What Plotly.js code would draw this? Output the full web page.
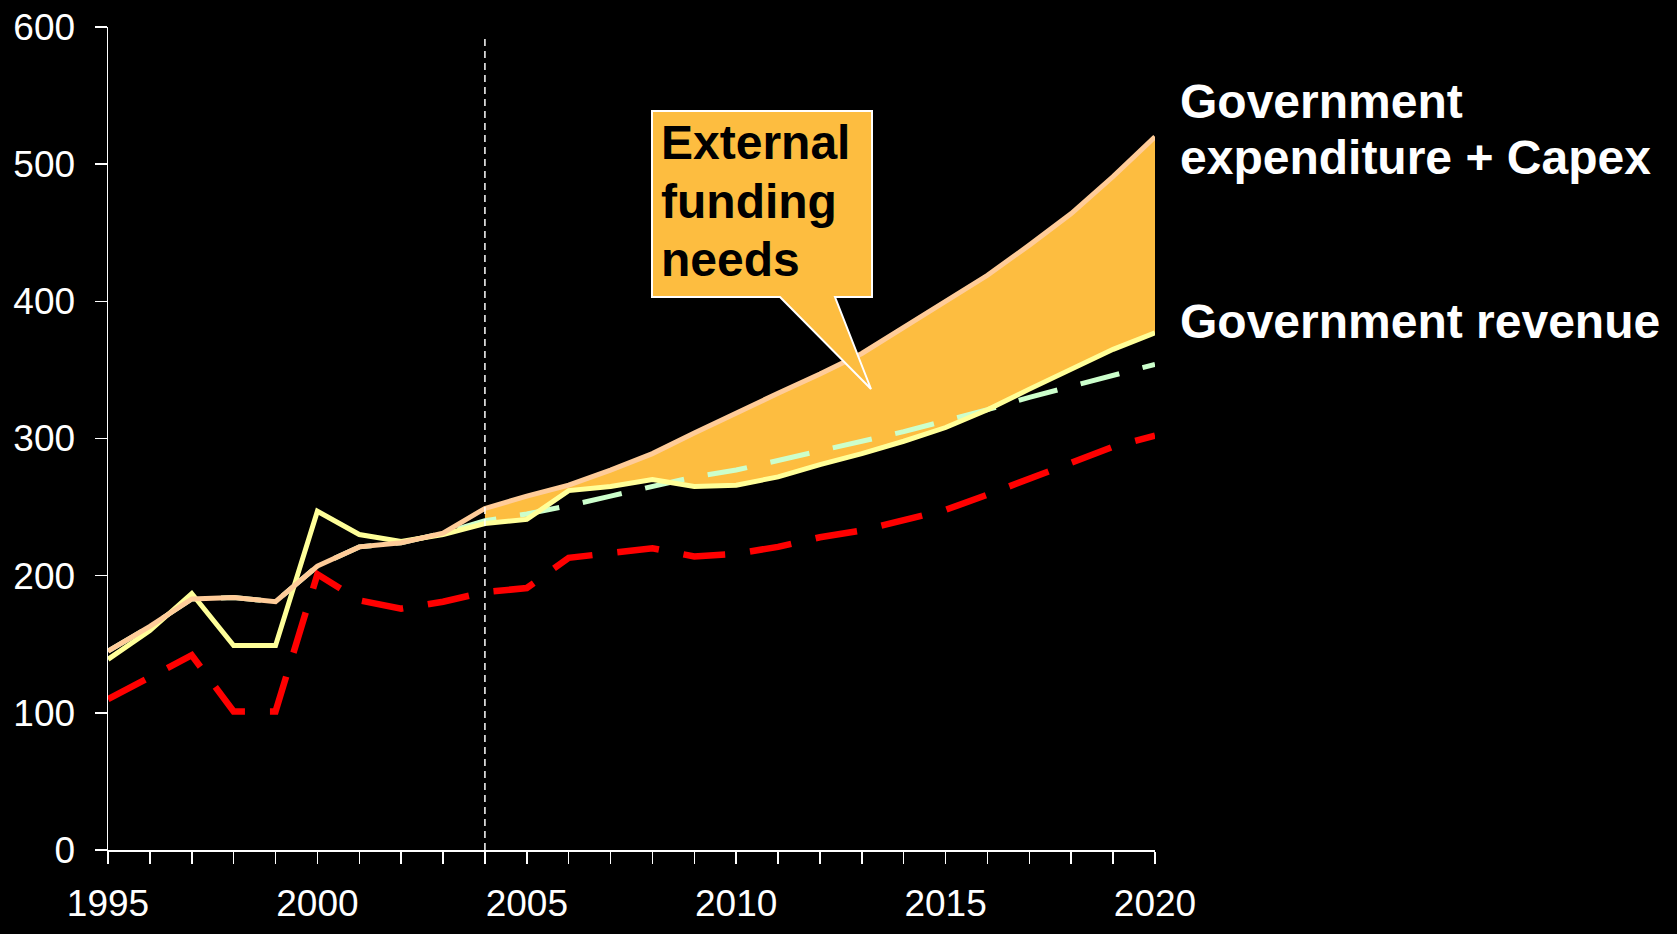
<!DOCTYPE html>
<html>
<head>
<meta charset="utf-8">
<script src="https://cdn.plot.ly/plotly-3.0.1.min.js"></script>
<style>html,body{margin:0;padding:0;background:#000;}#chart{width:1677px;height:934px;}</style>
</head>
<body>
<div id="chart"></div>
<script>
// ---- data ----
const years = [1995,1996,1997,1998,1999,2000,2001,2002,2003,2004,2005,2006,2007,2008,2009,2010,2011,2012,2013,2014,2015,2016,2017,2018,2019,2020];
const govRevenue = [139,160,187,149,149,247,230,225,230,238,241,262,265,270,265,266,272,281,289,298,308,321,336,351,365,377];
const govExpCapex = [145,163,183,184,181,207,221,224,231,249,258,266,277,289,304,319,333,347,362,381,400,419,441,464,491,520];
const trendSeries = [145,163,183,184,181,207,221,224,231,240,245,251,258,265,272,277,284,291,298,305,313,321,330,338,346,354];
const redSeries = [110,126,142,101,101,201,182,176,181,188,191,213,217,220,214,216,221,228,233,241,248,259,271,282,294,302];
const forecastStart = 2004;
const xTickVals = [1995,2000,2005,2010,2015,2020];
const labelExp = ["Government", "expenditure + Capex"];
const labelRev = "Government revenue";
const calloutLines = ["External", "funding", "needs"];

// ---- geometry helpers (pixel -> paper) ----
const W = 1677, H = 934;
const L = 108, R = 1155, T = 27, B = 850;
const px = x => (x - L) / (R - L);
const py = y => (B - y) / (B - T);

const FONT = "Arial, 'Liberation Sans', sans-serif";
const ORANGE = '#FDBD40';

// forecast subset for the funding gap fill
const fIdx = years.map((y,i)=>i).filter(i => years[i] >= forecastStart);
const fYears = fIdx.map(i => years[i]);
const fRev = fIdx.map(i => govRevenue[i]);
const fExp = fIdx.map(i => govExpCapex[i]);

const traces = [
  {x: fYears, y: fRev, mode:'lines', line:{width:0, color:ORANGE}, hoverinfo:'skip', showlegend:false},
  {x: fYears, y: fExp, mode:'lines', fill:'tonexty', fillcolor:ORANGE, line:{width:0, color:ORANGE}, hoverinfo:'skip', showlegend:false},
  {x: years, y: trendSeries, mode:'lines', line:{color:'#CCFFCC', width:5, dash:'40px,24px'}, cliponaxis:false, showlegend:false},
  {x: years, y: redSeries, mode:'lines', line:{color:'#FF0000', width:6.5, dash:'42px,25px'}, cliponaxis:false, showlegend:false},
  {x: years, y: govRevenue, mode:'lines', line:{color:'#FFFF99', width:5}, cliponaxis:false, showlegend:false},
  {x: years, y: govExpCapex, mode:'lines', line:{color:'#FFCC99', width:5}, cliponaxis:false, showlegend:false}
];

const bx0 = px(652), bx1 = px(872), by0 = py(297), by1 = py(111);
const calloutPath = `M ${bx0},${by1} L ${bx1},${by1} L ${bx1},${by0} L ${px(835)},${by0} L ${px(871)},${py(389)} L ${px(780)},${by0} L ${bx0},${by0} Z`;

const shapes = [
  {type:'line', xref:'x', yref:'y', x0:forecastStart, x1:forecastStart, y0:0, y1:592, line:{color:'#FFFFFF', width:1.5, dash:'7px,5px'}, layer:'above'},
  {type:'path', xref:'paper', yref:'paper', path: calloutPath, fillcolor:ORANGE, line:{color:'#FFFFFF', width:2}, layer:'above'}
];

const bigFont = {family: FONT, size: 48, color:'#FFFFFF', weight: 700};
const darkFont = Object.assign({}, bigFont, {color:'#000000'});
const annotations = [
  {xref:'paper', yref:'paper', x:px(1178), y:py(101), xanchor:'left', yanchor:'middle', text: '<b>'+labelExp[0]+'</b>', showarrow:false, font: bigFont},
  {xref:'paper', yref:'paper', x:px(1178), y:py(157), xanchor:'left', yanchor:'middle', text: '<b>'+labelExp[1]+'</b>', showarrow:false, font: bigFont},
  {xref:'paper', yref:'paper', x:px(1178), y:py(321), xanchor:'left', yanchor:'middle', text: '<b>'+labelRev+'</b>', showarrow:false, font: bigFont},
  {xref:'paper', yref:'paper', x:px(659), y:py(143), xanchor:'left', yanchor:'middle', text: '<b>'+calloutLines[0]+'</b>', showarrow:false, font: darkFont},
  {xref:'paper', yref:'paper', x:px(659), y:py(201), xanchor:'left', yanchor:'middle', text: '<b>'+calloutLines[1]+'</b>', showarrow:false, font: darkFont},
  {xref:'paper', yref:'paper', x:px(659), y:py(259), xanchor:'left', yanchor:'middle', text: '<b>'+calloutLines[2]+'</b>', showarrow:false, font: darkFont}
];

const layout = {
  width: W, height: H,
  paper_bgcolor:'#000000', plot_bgcolor:'#000000',
  margin:{l:L, r:W-R, t:T, b:H-B, pad:0},
  showlegend:false,
  font:{family:FONT, color:'#FFFFFF', size:37},
  xaxis:{
    range:[1995,2020], tickmode:'array', tickvals:xTickVals, ticktext:xTickVals.map(String),
    showgrid:false, zeroline:false, showline:true, linecolor:'#FFFFFF', linewidth:1.5,
    ticks:'outside', ticklen:12, tickwidth:1.5, tickcolor:'#FFFFFF',
    ticklabelstandoff: 8,
    minor:{dtick:1, tick0:1995, ticks:'outside', ticklen:12, tickwidth:1.5, tickcolor:'#FFFFFF', showgrid:false},
    tickfont:{family:FONT, size:37, color:'#FFFFFF'}
  },
  yaxis:{
    range:[0,600], dtick:100, tick0:0,
    showgrid:false, zeroline:false, showline:true, linecolor:'#FFFFFF', linewidth:1.5,
    ticks:'outside', ticklen:12, tickwidth:1.5, tickcolor:'#FFFFFF',
    ticklabelstandoff: 12,
    tickfont:{family:FONT, size:37, color:'#FFFFFF'}
  },
  shapes: shapes,
  annotations: annotations
};

Plotly.newPlot('chart', traces, layout, {staticPlot:true, displayModeBar:false});
</script>
</body>
</html>
